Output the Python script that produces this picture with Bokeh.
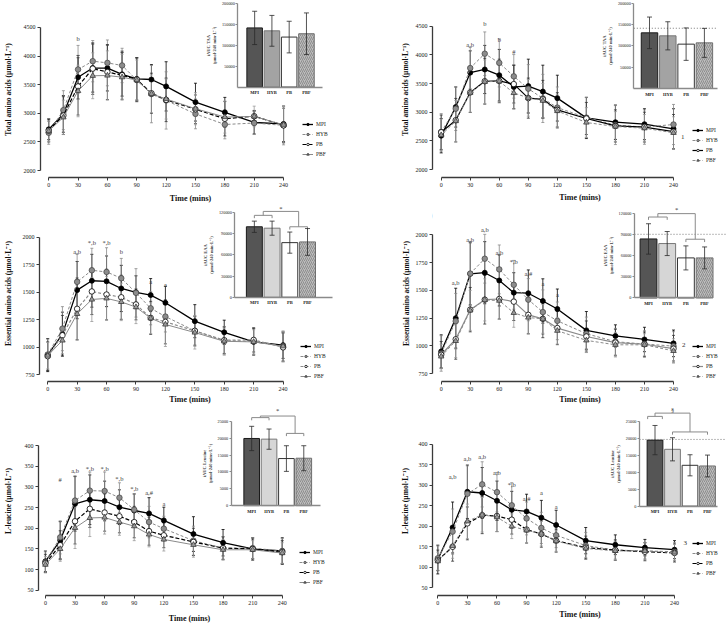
from bokeh.plotting import figure
from bokeh.layouts import column, row
from bokeh.models import (ColumnDataSource, Whisker, TeeHead, Legend, LegendItem,
                          Label, FixedTicker, Range1d, LinearAxis, BasicTickFormatter)
from bokeh.core.properties import value, field
from bokeh.embed import file_html
from bokeh.resources import INLINE

FONT = "Liberation Serif"

TIME = [0, 15, 30, 45, 60, 75, 90, 105, 120, 150, 180, 210, 240]
TIME_TICKS = [0, 30, 60, 90, 120, 150, 180, 210, 240]
GROUPS = ["MPI", "HYB", "PB", "PBF"]

# ---------------- Panel A : total amino acids (study 1) ----------------
A_MPI = [2720, 2990, 3630, 3790, 3790, 3680, 3600, 3590, 3470, 3195, 3018, 2840, 2815]
A_MPI_SD = [180, 320, 380, 420, 400, 380, 370, 260, 430, 330, 260, 200, 310]
A_HYB = [2660, 3055, 3765, 3910, 3880, 3835, 3580, 3335, 3225, 2990, 2805, 2830, 2790]
A_HYB_SD = [200, 340, 420, 360, 400, 300, 380, 500, 500, 260, 250, 200, 340]
A_PB = [2700, 2960, 3470, 3780, 3720, 3665, 3590, 3350, 3235, 3070, 2905, 2950, 2790]
A_PB_SD = [200, 330, 500, 450, 480, 420, 380, 350, 380, 250, 300, 100, 300]
A_PBF = [2690, 2930, 3390, 3655, 3660, 3630, 3580, 3340, 3250, 3080, 2935, 2945, 2800]
A_PBF_SD = [180, 300, 450, 400, 430, 400, 350, 330, 350, 280, 280, 180, 320]

# ---------------- Panel B : total amino acids (study 2) ----------------
B_MPI = [2590, 3090, 3690, 3745, 3645, 3440, 3455, 3360, 3245, 2900, 2825, 2790, 2710]
B_MPI_SD = [300, 350, 380, 420, 450, 380, 470, 460, 400, 360, 300, 270, 350]
B_HYB = [2655, 3060, 3770, 4020, 3860, 3625, 3410, 3240, 3080, 2905, 2775, 2740, 2785]
B_HYB_SD = [320, 380, 360, 380, 420, 380, 420, 420, 360, 350, 340, 300, 350]
B_PB = [2650, 2860, 3345, 3540, 3545, 3490, 3245, 3225, 3040, 2890, 2760, 2740, 2660]
B_PB_SD = [300, 380, 350, 400, 380, 330, 350, 330, 300, 280, 280, 260, 300]
B_PBF = [2600, 2845, 3340, 3530, 3540, 3335, 3250, 3200, 3020, 2820, 2750, 2720, 2640]
B_PBF_SD = [280, 360, 340, 380, 360, 280, 320, 300, 280, 260, 260, 240, 280]

# ---------------- Panel C : essential amino acids (study 1) ----------------
C_MPI = [930, 1120, 1520, 1605, 1600, 1535, 1500, 1475, 1405, 1238, 1137, 1050, 1020]
C_MPI_SD = [150, 200, 260, 240, 230, 210, 150, 150, 150, 150, 110, 120, 120]
C_HYB = [935, 1170, 1595, 1700, 1685, 1628, 1495, 1355, 1280, 1150, 1060, 1055, 1010]
C_HYB_SD = [140, 200, 250, 200, 220, 180, 220, 150, 140, 140, 130, 120, 130]
C_PB = [920, 1110, 1350, 1508, 1480, 1455, 1390, 1268, 1232, 1150, 1065, 1068, 1000]
C_PB_SD = [130, 180, 280, 210, 230, 200, 140, 150, 200, 130, 120, 110, 130]
C_PBF = [925, 1063, 1304, 1435, 1445, 1413, 1366, 1265, 1208, 1135, 1055, 1050, 1010]
C_PBF_SD = [120, 120, 240, 200, 200, 170, 150, 140, 200, 150, 120, 110, 140]

# ---------------- Panel D : essential amino acids (study 2) ----------------
D_MPI = [950, 1250, 1650, 1660, 1590, 1480, 1475, 1405, 1333, 1140, 1090, 1058, 1023]
D_MPI_SD = [150, 270, 280, 280, 230, 180, 210, 200, 180, 170, 100, 110, 120]
D_HYB = [932, 1223, 1652, 1786, 1690, 1551, 1417, 1305, 1226, 1110, 1038, 1017, 998]
D_HYB_SD = [160, 250, 290, 220, 220, 220, 190, 200, 170, 150, 120, 120, 130]
D_PB = [920, 1060, 1327, 1417, 1423, 1399, 1280, 1244, 1161, 1085, 1030, 1015, 975]
D_PB_SD = [120, 180, 200, 220, 180, 170, 170, 170, 150, 140, 120, 110, 120]
D_PBF = [905, 1045, 1320, 1415, 1408, 1298, 1256, 1244, 1137, 1050, 1010, 1010, 955]
D_PBF_SD = [110, 150, 180, 190, 170, 130, 150, 130, 120, 110, 110, 100, 110]

# ---------------- Panel E : L-leucine (study 1) ----------------
E_MPI = [120, 171, 259, 269, 266, 251, 243, 236, 219, 186, 165, 150, 145]
E_MPI_SD = [25, 45, 66, 60, 48, 42, 40, 38, 32, 42, 32, 27, 32]
E_HYB = [118, 178, 267, 291, 290, 274, 245, 215, 199, 170, 152, 152, 145]
E_HYB_SD = [25, 40, 60, 45, 46, 36, 38, 38, 30, 35, 28, 25, 30]
E_PB = [115, 159, 217, 247, 238, 229, 215, 193, 183, 167, 152, 150, 142]
E_PB_SD = [22, 35, 55, 45, 45, 40, 38, 34, 30, 33, 27, 24, 28]
E_PBF = [112, 150, 201, 225, 226, 215, 205, 185, 173, 160, 148, 148, 140]
E_PBF_SD = [20, 30, 50, 45, 40, 32, 35, 30, 28, 30, 25, 22, 25]

# ---------------- Panel F : L-leucine (study 2) ----------------
F_MPI = [119, 197, 284, 281, 262, 240, 236, 221, 203, 165, 155, 148, 143]
F_MPI_SD = [35, 62, 65, 62, 48, 45, 42, 42, 36, 32, 24, 20, 22]
F_HYB = [122, 187, 279, 302, 283, 251, 219, 196, 178, 153, 142, 140, 138]
F_HYB_SD = [30, 55, 68, 55, 48, 55, 40, 38, 30, 32, 22, 20, 22]
F_PB = [117, 150, 207, 227, 225, 216, 192, 181, 165, 148, 142, 138, 135]
F_PB_SD = [25, 35, 40, 45, 38, 35, 33, 32, 28, 28, 25, 22, 22]
F_PBF = [115, 152, 212, 228, 222, 200, 190, 182, 164, 146, 140, 140, 136]
F_PBF_SD = [22, 30, 42, 42, 35, 30, 30, 30, 25, 22, 22, 20, 20]

# ---------------- inset iAUC bars ----------------
A_IAUC = [142000, 135000, 120000, 128000]
A_IAUC_SD = [40000, 37000, 38000, 50000]
B_IAUC = [130500, 123500, 104000, 107000]
B_IAUC_SD = [37000, 33000, 38000, 34000]
B_REF = 141300
C_IAUC = [100000, 98000, 77500, 78500]
C_IAUC_SD = [8000, 10000, 15000, 19000]
D_IAUC = [83400, 76900, 56600, 56600]
D_IAUC_SD = [21500, 17000, 17000, 15500]
D_REF = 90000
E_IAUC = [19900, 19700, 13950, 14050]
E_IAUC_SD = [3600, 3000, 3800, 3700]
F_IAUC = [19400, 16700, 12000, 11800]
F_IAUC_SD = [4300, 3400, 3100, 3200]
F_REF = 19600

# significance annotations: (time, level, text)
ANN = {
    "A": [(30, 4300, "b")],
    "B": [(30, 4180, "a,b"), (45, 4555, "b"), (60, 4270, "b"), (75, 4050, "#")],
    "C": [(30, 1872, "a,b"), (45, 1952, "*,b"), (60, 1952, "*,b"), (75, 1872, "b"),
          (105, 1595, "a"), (120, 1574, "a")],
    "D": [(15, 1571, "a,b"), (30, 1958, "a,b"), (45, 2048, "a,b"), (60, 1845, "a,b"),
          (75, 1759, "*,b"), (90, 1655, "a,#"), (105, 1563, "a"), (120, 1467, "a")],
    "E": [(15, 318, "#"), (30, 340, "a,b"), (45, 344, "*,b"), (60, 344, "*,b"),
          (75, 321, "*,b"), (90, 297, "*,b"), (105, 287, "a,#"), (120, 261, "a")],
    "F": [(15, 322, "a,b"), (30, 366, "a,b"), (45, 370, "a,b"), (60, 331, "a,b"),
          (75, 301, "*,b"), (90, 267, "a,#"), (105, 282, "a"), (120, 248, "a")],
}
FOOTNOTE = {"B": (249.6, 2560, "1"), "D": (250.6, 1010, "2"), "F": (250.9, 160, "3")}

# bracket comparisons in insets (group index spans, levels in iAUC units)
BRACKETS = {
    "C": dict(left=(0, 1), right=(2, 3), left_y=116200, right_y=100000, top_y=121800, leg=4000, mark="*", mark_y=126000),
    "D": dict(left=(0, 1), right=(2, 3), left_y=114400, right_y=83000, top_y=119200, leg=4000, mark="*", mark_y=125000),
    "E": dict(left=(0, 1), right=(2, 3), left_y=26080, right_y=21400, top_y=26550, leg=800, mark="*", mark_y=28200),
    "F": dict(left=(0, 0), right=(1, 3), left_y=26370, right_y=21800, top_y=27330, leg=800, mark="§", mark_y=28340),
}

DATA = {
    "A": {"MPI": (A_MPI, A_MPI_SD), "HYB": (A_HYB, A_HYB_SD), "PB": (A_PB, A_PB_SD), "PBF": (A_PBF, A_PBF_SD)},
    "B": {"MPI": (B_MPI, B_MPI_SD), "HYB": (B_HYB, B_HYB_SD), "PB": (B_PB, B_PB_SD), "PBF": (B_PBF, B_PBF_SD)},
    "C": {"MPI": (C_MPI, C_MPI_SD), "HYB": (C_HYB, C_HYB_SD), "PB": (C_PB, C_PB_SD), "PBF": (C_PBF, C_PBF_SD)},
    "D": {"MPI": (D_MPI, D_MPI_SD), "HYB": (D_HYB, D_HYB_SD), "PB": (D_PB, D_PB_SD), "PBF": (D_PBF, D_PBF_SD)},
    "E": {"MPI": (E_MPI, E_MPI_SD), "HYB": (E_HYB, E_HYB_SD), "PB": (E_PB, E_PB_SD), "PBF": (E_PBF, E_PBF_SD)},
    "F": {"MPI": (F_MPI, F_MPI_SD), "HYB": (F_HYB, F_HYB_SD), "PB": (F_PB, F_PB_SD), "PBF": (F_PBF, F_PBF_SD)},
}
IAUC = {"A": (A_IAUC, A_IAUC_SD, None), "B": (B_IAUC, B_IAUC_SD, B_REF),
        "C": (C_IAUC, C_IAUC_SD, None), "D": (D_IAUC, D_IAUC_SD, D_REF),
        "E": (E_IAUC, E_IAUC_SD, None), "F": (F_IAUC, F_IAUC_SD, F_REF)}

YLABEL = {"A": "Total amino acids (µmol·L⁻¹)", "B": "Total amino acids (µmol·L⁻¹)",
          "C": "Essential amino acids (µmol·L⁻¹)", "D": "Essential amino acids (µmol·L⁻¹)",
          "E": "L-leucine (µmol·L⁻¹)", "F": "L-leucine (µmol·L⁻¹)"}
YTICKS = {"A": [2000, 2500, 3000, 3500, 4000, 4500], "B": [2000, 2500, 3000, 3500, 4000, 4500],
          "C": [750, 1000, 1250, 1500, 1750, 2000], "D": [750, 1000, 1250, 1500, 1750, 2000],
          "E": [50, 100, 150, 200, 250, 300, 350, 400], "F": [50, 100, 150, 200, 250, 300, 350, 400]}
INSET_LABEL = {"A": "iAUC TAA\n(µmol·240 min·L⁻¹)", "B": "iAUC TAA\n(µmol·240 min·L⁻¹)",
               "C": "iAUC EAA\n(µmol·240 min·L⁻¹)", "D": "iAUC EAA\n(µmol·240 min·L⁻¹)",
               "E": "iAUC Leucine\n(µmol·240 mins·L⁻¹)", "F": "iAUC Leucine\n(µmol·240 min·L⁻¹)"}
INSET_TICKS = {"A": [50000, 100000, 150000, 200000], "B": [50000, 100000, 150000, 200000],
               "C": [0, 30000, 60000, 90000, 120000], "D": [0, 30000, 60000, 90000, 120000],
               "E": [0, 5000, 10000, 15000, 20000, 25000], "F": [0, 5000, 10000, 15000, 20000, 25000]}

# ---------------- layout (pixels, relative to each panel) ----------------
PANEL = {
    "A": dict(size=(364, 205), frame=(36, 340, 1, 180), xpx=(44.3, 282.3), ypx=(173.0, 27.3),
              letter=(30, 12), legend=(262, 20), ylab_st=8, xlab_st=4),
    "B": dict(size=(364, 205), frame=(68, 363, 1, 177), xpx=(76.7, 309.0), ypx=(169.0, 25.7),
              letter=(62.5, 11), legend=(260, 14), ylab_st=3, xlab_st=3),
    "C": dict(size=(364, 201), frame=(36, 340, 0, 179), xpx=(44.3, 282.0), ypx=(172.3, 32.3),
              letter=(30.5, 10), legend=(261, 2), ylab_st=7, xlab_st=1),
    "D": dict(size=(364, 201), frame=(68, 363, 0, 179), xpx=(76.7, 309.0), ypx=(171.0, 30.0),
              letter=(63.5, 10), legend=(260, 2), ylab_st=2, xlab_st=1),
    "E": dict(size=(364, 219), frame=(34, 340, 0, 192), xpx=(41.0, 281.0), ypx=(186.7, 39.7),
              letter=(27, 22.3), legend=(261, 10), ylab_st=9, xlab_st=6),
    "F": dict(size=(364, 219), frame=(68, 363, 0, 191), xpx=(73.3, 310.0), ypx=(183.3, 38.0),
              letter=(59, 22.3), legend=(260, 19), ylab_st=6, xlab_st=2),
}
# inset geometry: y-axis x, first bar centre, bar pitch, x-axis end, y pixel of 0 and of top tick
INSET = {
    "A": dict(axis=236.0, c0=253.0, sp=17.5, end=322.0, ypx=(88.0, 3.3), top=200000, ref_end=322.0),
    "B": dict(axis=269.3, c0=285.0, sp=18.3, end=353.0, ypx=(88.0, 2.7), top=200000, ref_end=353.0),
    "C": dict(axis=233.3, c0=253.0, sp=17.9, end=331.7, ypx=(93.3, 7.3), top=120000, ref_end=331.7),
    "D": dict(axis=270.0, c0=284.0, sp=18.7, end=346.0, ypx=(94.0, 7.7), top=120000, ref_end=361.7),
    "E": dict(axis=229.3, c0=250.0, sp=17.6, end=320.0, ypx=(100.7, 15.0), top=25000, ref_end=320.0),
    "F": dict(axis=275.0, c0=290.5, sp=17.5, end=353.0, ypx=(100.7, 14.7), top=25000, ref_end=361.7),
}

BASE_STYLE = {
    "MPI": dict(lc="black", lw=1.3, dash="solid", marker="circle", fc="black", mc="black", size=5.0, ec="black"),
    "HYB": dict(lc="#8a8a8a", lw=1.0, dash="3 2", marker="circle", fc="#8c8c8c", mc="#4a4a4a", size=5.5, ec="#8a8a8a"),
    "PB": dict(lc="black", lw=1.2, dash="4 2", marker="circle", fc="white", mc="black", size=5.5, ec="#333333"),
    "PBF": dict(lc="#8a8a8a", lw=1.0, dash="solid", marker="triangle", fc="#9a9a9a", mc="#3a3a3a", size=5.5, ec="#9a9a9a"),
}
DASH_OVERRIDE = {
    "B": {"PB": ("black", "solid"), "PBF": ("#8a8a8a", "3 2")},
    "C": {"PB": ("#8a8a8a", "3 2"), "PBF": ("#8a8a8a", "solid")},
    "D": {"PB": ("#8a8a8a", "solid"), "PBF": ("#8a8a8a", "3 2")},
    "F": {"PBF": ("#8a8a8a", "3 2")},
}


def rng(e_lo, e_hi, p_lo, v_lo, p_hi, v_hi):
    k = (v_hi - v_lo) / (p_hi - p_lo)
    return v_lo + (e_lo - p_lo) * k, v_lo + (e_hi - p_lo) * k


def style_axis(ax, color, width, font_size, tick_out):
    ax.axis_line_color = color
    ax.axis_line_width = width
    ax.major_tick_line_color = color
    ax.major_tick_line_width = 1.0
    ax.major_tick_out = tick_out
    ax.major_tick_in = 0
    ax.minor_tick_line_color = None
    ax.major_label_text_font = FONT
    ax.major_label_text_font_size = font_size
    ax.major_label_text_color = "#1a1a1a"


def add_inset(p, key, L, R, T, B):
    cfg = INSET[key]
    means, sds, ref = IAUC[key]
    c0, sp = cfg["c0"], cfg["sp"]
    ix0, ix1 = (L - c0) / sp, (R - c0) / sp
    iy0, iy1 = rng(B, T, cfg["ypx"][0], 0, cfg["ypx"][1], cfg["top"])
    p.extra_x_ranges = {"ix": Range1d(ix0, ix1)}
    p.extra_y_ranges = {"iy": Range1d(iy0, iy1)}
    ax_x = (cfg["axis"] - c0) / sp
    end_x = (cfg["end"] - c0) / sp
    idx = list(range(len(GROUPS)))

    light = key in ("C", "D", "E", "F")
    src = ColumnDataSource(dict(
        i=idx, m=means,
        u=[a + b for a, b in zip(means, sds)], l=[a - b for a, b in zip(means, sds)],
        fill=["#555555", "#d6d6d6" if light else "#a3a3a3", "#ffffff", "#bdbdbd"],
        line=["#1a1a1a", "#777777", "#333333", "#6f6f6f"],
        hatch=[" ", " ", " ", "/"]))
    p.vbar(x="i", top="m", bottom=0, width=0.9, source=src, fill_color=field("fill"),
           line_color=field("line"), line_width=1.0, hatch_pattern=field("hatch"),
           hatch_color="#808080", hatch_scale=4, hatch_weight=0.8,
           x_range_name="ix", y_range_name="iy")
    wh = Whisker(source=src, base="i", upper="u", lower="l", line_color="#2a2a2a", line_width=0.8,
                 upper_head=TeeHead(size=5, line_color="#2a2a2a", line_width=0.8),
                 lower_head=TeeHead(size=5, line_color="#2a2a2a", line_width=0.8), level="annotation",
                 x_range_name="ix", y_range_name="iy")
    p.add_layout(wh)
    if ref:
        p.segment([ax_x], [ref], [(cfg["ref_end"] - c0) / sp], [ref], line_color="#777777",
                  line_dash="1 2", line_width=1.0, x_range_name="ix", y_range_name="iy")

    if key in BRACKETS:
        b = BRACKETS[key]
        segs, mids = [], []
        for (i, j), yv in ((b["left"], b["left_y"]), (b["right"], b["right_y"])):
            if i == j:
                xa, xb = i - 0.42, i + 0.42
            else:
                xa, xb = i, j
            xm = (xa + xb) / 2
            mids.append(xm)
            segs += [(xa, yv, xb, yv), (xa, yv, xa, yv - b["leg"]), (xb, yv, xb, yv - b["leg"]),
                     (xm, yv, xm, b["top_y"])]
        segs.append((mids[0], b["top_y"], mids[1], b["top_y"]))
        bsrc = ColumnDataSource(dict(x0=[s[0] for s in segs], y0=[s[1] for s in segs],
                                     x1=[s[2] for s in segs], y1=[s[3] for s in segs]))
        p.segment("x0", "y0", "x1", "y1", source=bsrc, line_color="#8a8a8a", line_width=1.0,
                  x_range_name="ix", y_range_name="iy")
        p.text([(mids[0] + mids[1]) / 2], [b["mark_y"]], text=[b["mark"]], text_font=value(FONT),
               text_font_size="6.5px", text_color="#333333", text_align="center", text_baseline="middle",
               x_range_name="ix", y_range_name="iy")

    ya = LinearAxis(x_range_name="ix", y_range_name="iy", fixed_location=ax_x, bounds=(0, cfg["top"]),
                    ticker=FixedTicker(ticks=INSET_TICKS[key]),
                    formatter=BasicTickFormatter(use_scientific=False))
    style_axis(ya, "#8a8a8a", 1.3, "4.3px", 2)
    ya.major_label_standoff = 1
    ya.axis_label = INSET_LABEL[key]
    ya.axis_label_text_font = FONT
    ya.axis_label_text_font_size = "4.5px"
    ya.axis_label_text_font_style = "bold"
    ya.axis_label_standoff = 2
    p.add_layout(ya, "left")

    overrides = {}
    for i, g in zip(idx, GROUPS):
        overrides[i] = g
        overrides[str(i)] = g
    xa_ = LinearAxis(x_range_name="ix", y_range_name="iy", fixed_location=0, bounds=(ax_x, end_x),
                     ticker=FixedTicker(ticks=idx), major_label_overrides=overrides)
    style_axis(xa_, "#8a8a8a", 1.3, "4.5px", 0)
    xa_.major_tick_line_color = None
    xa_.major_label_text_font_style = "bold"
    xa_.major_label_standoff = 3
    p.add_layout(xa_, "below")


def build(key):
    cfg = PANEL[key]
    W, H = cfg["size"]
    L, R, T, B = cfg["frame"]
    yt = YTICKS[key]
    x0, x1 = rng(L, R, cfg["xpx"][0], 0, cfg["xpx"][1], 240)
    y0, y1 = rng(B, T, cfg["ypx"][0], yt[0], cfg["ypx"][1], yt[-1])
    p = figure(width=W, height=H, x_range=Range1d(x0, x1), y_range=Range1d(y0, y1),
               output_backend="svg", toolbar_location=None,
               min_border_left=L, min_border_right=W - R, min_border_top=T, min_border_bottom=H - B)
    p.outline_line_color = None
    p.xgrid.visible = False
    p.ygrid.visible = False
    p.background_fill_color = "white"
    p.border_fill_color = "white"
    mx, my = p.below[0], p.left[0]

    for ax in (mx, my):
        style_axis(ax, "#3a3a3a", 1.3, "6px", 3)
        ax.major_label_standoff = 2
        ax.axis_label_text_font = FONT
        ax.axis_label_text_font_style = "bold"
        ax.axis_label_text_color = "#111111"
    mx.ticker = FixedTicker(ticks=TIME_TICKS)
    mx.bounds = (TIME_TICKS[0], TIME_TICKS[-1])
    my.ticker = FixedTicker(ticks=yt)
    my.bounds = (yt[0], yt[-1])
    mx.axis_label = "Time (mins)"
    mx.axis_label_text_font_size = "8px"
    mx.axis_label_standoff = cfg["xlab_st"]
    my.axis_label = YLABEL[key]
    my.axis_label_text_font_size = "7.5px"
    my.axis_label_standoff = cfg["ylab_st"]

    add_inset(p, key, L, R, T, B)

    items = []
    for g in GROUPS:
        m, s = DATA[key][g]
        st = dict(BASE_STYLE[g])
        if key in DASH_OVERRIDE and g in DASH_OVERRIDE[key]:
            st["lc"], st["dash"] = DASH_OVERRIDE[key][g]
        src = ColumnDataSource(dict(t=TIME, m=m, u=[a + b for a, b in zip(m, s)],
                                    l=[a - b for a, b in zip(m, s)]))
        wh = Whisker(source=src, base="t", upper="u", lower="l", line_color=st["ec"], line_width=0.8,
                     upper_head=TeeHead(size=3, line_color=st["ec"], line_width=0.8),
                     lower_head=TeeHead(size=3, line_color=st["ec"], line_width=0.8))
        p.add_layout(wh)
        lr = p.line("t", "m", source=src, line_color=st["lc"], line_width=st["lw"], line_dash=st["dash"])
        sr = p.scatter("t", "m", source=src, marker=st["marker"], size=st["size"], fill_color=st["fc"],
                       line_color=st["mc"], line_width=0.8)
        items.append(LegendItem(label=g, renderers=[lr, sr]))

    leg = Legend(items=items, location=cfg["legend"], orientation="vertical", padding=0, margin=0,
                 spacing=4, glyph_width=11, glyph_height=6, label_height=6, label_standoff=3,
                 label_text_font=FONT, label_text_font_size="5.5px", label_text_color="#1a1a1a",
                 border_line_color=None, background_fill_alpha=0)
    p.add_layout(leg)

    ann = ANN[key]
    asrc = ColumnDataSource(dict(t=[a[0] for a in ann], y=[a[1] for a in ann], s=[a[2] for a in ann]))
    p.text("t", "y", text="s", source=asrc, text_font=value(FONT), text_font_size="6.5px",
           text_color="#3a3a3a", text_align="center", text_baseline="middle")
    if key in FOOTNOTE:
        fx, fy, fs = FOOTNOTE[key]
        p.text([fx], [fy], text=[fs], text_font=value(FONT), text_font_size="7px",
               text_color="#333333", text_align="center", text_baseline="middle")

    lx = x0 + (cfg["letter"][0] - L) * (x1 - x0) / (R - L)
    ly = y1 - (cfg["letter"][1] - T) * (y1 - y0) / (B - T)
    p.add_layout(Label(x=lx, y=ly, text=key, text_font=FONT, text_font_size="13px",
                       text_font_style="bold", text_align="center", text_baseline="middle",
                       text_color="#111111"))
    return p


page = column(row(build("A"), build("B")), row(build("C"), build("D")), row(build("E"), build("F")))

open("out.html", "w").write(file_html(page, INLINE))
